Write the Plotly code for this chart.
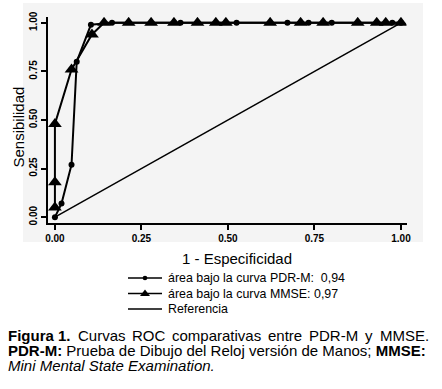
import plotly.graph_objects as go

W, H = 442, 389

# ---- data ----
pdrm_fpr = [0.0, 0.019, 0.048, 0.063, 0.104, 0.165, 0.363, 0.525, 0.672, 0.733, 0.80, 0.975, 1.0]
pdrm_tpr = [0.0, 0.07, 0.27, 0.80, 0.99, 1.0, 1.0, 1.0, 1.0, 1.0, 1.0, 1.0, 1.0]

mmse_fpr = [0.0, 0.0, 0.0, 0.048, 0.107, 0.142, 0.213, 0.278, 0.344, 0.412, 0.465, 0.494,
            0.622, 0.71, 0.775, 0.875, 0.93, 0.956, 1.0]
mmse_tpr = [0.05, 0.18, 0.48, 0.76, 0.94, 1.0, 1.0, 1.0, 1.0, 1.0, 1.0, 1.0,
            1.0, 1.0, 1.0, 1.0, 1.0, 1.0, 1.0]

ref_fpr = [0.0, 1.0]
ref_tpr = [0.0, 1.0]

tick_vals = [0.0, 0.25, 0.5, 0.75, 1.0]
tick_text = ["0.00", "0.25", "0.50", "0.75", "1.00"]

legend_labels = ["área bajo la curva PDR-M:  0,94",
                 "área bajo la curva MMSE: 0,97",
                 "Referencia"]

caption_line1 = ["<b>Figura 1.</b>", "Curvas", "ROC", "comparativas", "entre", "PDR-M", "y", "MMSE."]
caption_line2 = "<b>PDR-M:</b> Prueba de Dibujo del Reloj versión de Manos; <b>MMSE:</b>"
caption_line3 = "<i>Mini Mental State Examination.</i>"


def px(x):
    return x / W


def py(y):
    return 1 - y / H


FONT = "Liberation Sans, Arial, sans-serif"

fig = go.Figure()
fig.add_trace(go.Scatter(x=ref_fpr, y=ref_tpr, mode="lines",
                         line=dict(color="black", width=1.5), showlegend=False))
fig.add_trace(go.Scatter(x=pdrm_fpr, y=pdrm_tpr, mode="lines+markers",
                         line=dict(color="black", width=2),
                         marker=dict(symbol="circle", size=6, color="black"),
                         showlegend=False))
fig.add_trace(go.Scatter(x=mmse_fpr, y=mmse_tpr, mode="lines+markers",
                         line=dict(color="black", width=2),
                         marker=dict(symbol="triangle-up", size=12, color="black"),
                         showlegend=False))

axis_common = dict(showgrid=False, zeroline=False, showline=True, linecolor="black",
                   linewidth=1.5, ticks="outside", ticklen=5, tickwidth=1.5,
                   tickcolor="black", tickvals=tick_vals, ticktext=tick_text,
                   tickfont=dict(family=FONT, size=10, color="black", weight="bold"),
                   automargin=False, mirror=False)

fig.update_layout(
    width=W, height=H,
    margin=dict(l=0, r=0, t=0, b=0),
    paper_bgcolor="white",
    plot_bgcolor="rgba(0,0,0,0)",
    xaxis=dict(domain=[px(48), px(406.5)], range=[-0.02, 1.016], **axis_common),
    yaxis=dict(domain=[py(223), py(17)], range=[-0.03, 1.03], tickangle=-90, **axis_common),
    showlegend=False,
)

shapes = [dict(type="rect", xref="paper", yref="paper", x0=px(23), x1=px(423),
               y0=py(242), y1=py(3), fillcolor="#f4f4f4", line=dict(width=0), layer="below")]
annotations = []

# axis titles
annotations.append(dict(text="1 - Especificidad", x=px(237), y=py(258), xref="paper", yref="paper",
                        showarrow=False, font=dict(family=FONT, size=15, color="black"),
                        xanchor="center", yanchor="middle"))
annotations.append(dict(text="Sensibilidad", x=px(17.5), y=py(127), xref="paper", yref="paper",
                        showarrow=False, textangle=-90, font=dict(family=FONT, size=15, color="black"),
                        xanchor="center", yanchor="middle"))

# manual legend
leg_y = [278, 293.5, 309]
for i, (lab, yy) in enumerate(zip(legend_labels, leg_y)):
    shapes.append(dict(type="line", xref="paper", yref="paper", x0=px(128), x1=px(162),
                       y0=py(yy), y1=py(yy), line=dict(color="black", width=1.3)))
    annotations.append(dict(text=lab, x=px(166), y=py(yy), xref="paper", yref="paper",
                            showarrow=False, xanchor="left", yanchor="middle",
                            font=dict(family=FONT, size=12.4, color="black")))
# legend marker symbols
cx = 145
r = 2.3
shapes.append(dict(type="circle", xref="paper", yref="paper", x0=px(cx - r), x1=px(cx + r),
                   y0=py(leg_y[0] + r), y1=py(leg_y[0] - r), fillcolor="black",
                   line=dict(color="black", width=0)))
ty = leg_y[1]
tri = "M {} {} L {} {} L {} {} Z".format(px(cx - 5), py(ty + 2.5), px(cx + 5), py(ty + 2.5),
                                        px(cx), py(ty - 4))
shapes.append(dict(type="path", xref="paper", yref="paper", path=tri, fillcolor="black",
                   line=dict(color="black", width=0)))

# caption
cap_font = dict(family=FONT, size=15, color="black")
line1_x = [7, 76.5, 131, 171, 267, 308, 364, 378.5]
for word, xx in zip(caption_line1, line1_x):
    annotations.append(dict(text=word, x=px(xx), y=py(335), xref="paper", yref="paper",
                            showarrow=False, xanchor="left", yanchor="middle", font=cap_font,
                            borderpad=0))
annotations.append(dict(text=caption_line2, x=px(7), y=py(350), xref="paper", yref="paper",
                        showarrow=False, xanchor="left", yanchor="middle", font=cap_font,
                        borderpad=0))
annotations.append(dict(text=caption_line3, x=px(7), y=py(365), xref="paper", yref="paper",
                        showarrow=False, xanchor="left", yanchor="middle", font=cap_font,
                        borderpad=0))

fig.update_layout(shapes=shapes, annotations=annotations)
fig.write_html("out.html",
               config={"displayModeBar": False},
               post_script="document.body.style.margin='0';document.body.style.padding='0';")
